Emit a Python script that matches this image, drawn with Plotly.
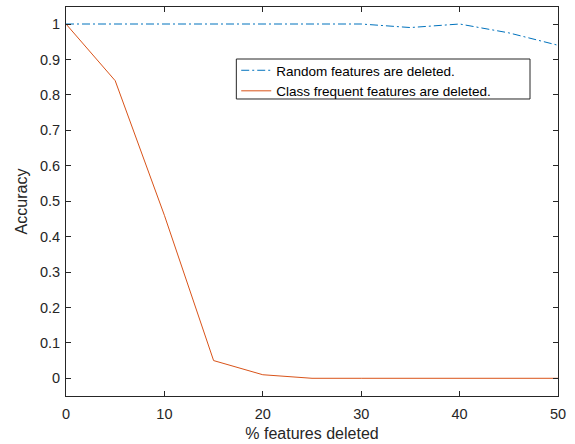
import plotly.graph_objects as go

x_vals = [0, 5, 10, 15, 20, 25, 30, 35, 40, 45, 50]
random_acc = [1, 1, 1, 1, 1, 1, 1, 0.99, 1, 0.975, 0.94]
class_acc = [1, 0.84, 0.46, 0.05, 0.01, 0, 0, 0, 0, 0, 0]
x_ticks = [0, 10, 20, 30, 40, 50]
y_ticks = [0, 0.1, 0.2, 0.3, 0.4, 0.5, 0.6, 0.7, 0.8, 0.9, 1]
y_tick_text = ["0", "0.1", "0.2", "0.3", "0.4", "0.5", "0.6", "0.7", "0.8", "0.9", "1"]

fig = go.Figure()
fig.add_trace(go.Scatter(x=x_vals, y=random_acc, mode="lines",
                         name="Random features are deleted.",
                         line=dict(color="#0072BD", width=1, dash="8px,3px,2px,3px")))
fig.add_trace(go.Scatter(x=x_vals, y=class_acc, mode="lines",
                         name="Class frequent features are deleted.",
                         line=dict(color="#D95319", width=1)))

axis_common = dict(showgrid=False, zeroline=False, showline=True, linecolor="#262626",
                   linewidth=1, mirror="ticks", ticks="inside", ticklen=5,
                   tickcolor="#262626", tickfont=dict(size=14.5, color="#262626"),
                   automargin=False)

# legend frame (paper coordinates)
fig.add_shape(type="rect", xref="paper", yref="paper",
              x0=0.3462, x1=0.9431, y0=0.7635, y1=0.8663,
              line=dict(color="#262626", width=1), fillcolor="white", layer="above")

fig.update_layout(
    width=575, height=444,
    margin=dict(l=65.5, r=17, t=7, b=48),
    paper_bgcolor="white", plot_bgcolor="white",
    font=dict(family="Liberation Sans, Arial, sans-serif", color="#262626"),
    xaxis=dict(range=[0, 50], tickvals=x_ticks, ticklabelstandoff=5,
               title=dict(text="% features deleted", font=dict(size=16), standoff=6),
               **axis_common),
    yaxis=dict(range=[-0.05, 1.048], tickvals=y_ticks, ticktext=y_tick_text,
               ticklabelstandoff=2,
               title=dict(text="Accuracy", font=dict(size=16), standoff=8),
               **axis_common),
    legend=dict(x=0.346, y=0.8766, xanchor="left", yanchor="top",
                bgcolor="rgba(0,0,0,0)", borderwidth=0,
                font=dict(size=13.5, color="#000000"), tracegroupgap=0,
                itemwidth=30),
    showlegend=True,
)

fig.write_html("out.html")
